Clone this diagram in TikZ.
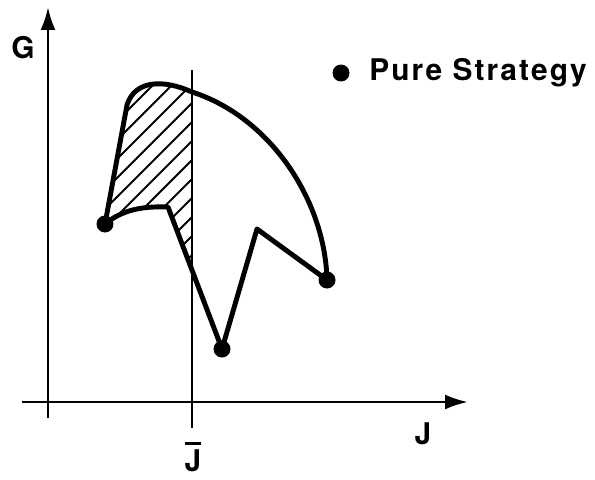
\documentclass[tikz,border=0pt]{standalone}
\usepackage{fontspec}
\setmainfont{TeX Gyre Heros}
\newfontfamily\legendfont[LetterSpace=7]{TeX Gyre Heros}
\usetikzlibrary{arrows.meta}
\tikzset{
  >={Latex[length=4.6mm,width=3mm]},
  axis/.style={->, line width=1.6pt, draw=black},
  jbar/.style={line width=1.4pt},
  boundary/.style={line width=2.8pt, line join=round},
  hatch/.style={line width=1.1pt},
  purept/.style={circle, fill=black, inner sep=0pt, minimum size=0.34cm},
  lbl/.style={font=\fontsize{17}{20}\selectfont\bfseries, inner sep=0pt}
}
% outline of the set of reachable (J,G) pairs
\newcommand\feasible{(stratA.center) -- (shoulder) .. controls (135,80) and (163,79) .. (crest)
  .. controls (270,117) and (325,200) .. (stratC.center) -- (peak) -- (stratB.center)
  -- (kink) .. controls (142,206) and (122,210) .. (stratA.center) -- cycle}

\begin{document}
\begin{tikzpicture}[x=0.02cm,y=-0.02cm]
\useasboundingbox (0,0) rectangle (595,480);
% axes
\coordinate (yfoot) at (48,418);
\coordinate (ytip) at (48,7);
\coordinate (xfoot) at (22,402);
\coordinate (xtip) at (468,402);
\draw[axis] (yfoot) -- (ytip);
\draw[axis] (xfoot) -- (xtip);
\node[lbl] (glabel) at (23,48) {G};
\node[lbl] (jlabel) at (423,434) {J};
% bound on J
\coordinate (jtop) at (192,70);
\coordinate (jfoot) at (192,428);
\node[lbl] (jbarlabel) at (193,457) {\setbox0\hbox{J}\vbox{\hrule height 1.7pt width \wd0 \kern 2.5pt \box0}};
% pure strategies
\node[purept] (stratA) at (105,224) {};
\node[purept] (stratB) at (222,349) {};
\node[purept] (stratC) at (327,280) {};
\coordinate (shoulder) at (127,105);
\coordinate (crest) at (192,92);
\coordinate (peak) at (257,229);
\coordinate (kink) at (168,207);
% hatched part left of the bound
\begin{scope}
\clip (0,0) rectangle (192,480);
\clip \feasible;
\foreach \k in {200,219,...,466}
  \draw[hatch] (80,\k-80) -- (200,\k-200);
\end{scope}
\draw[jbar] (jtop) -- (jfoot);
\draw[boundary] \feasible;
% legend
\node[purept] (legdot) at (341,73) {};
\node[lbl, anchor=base west, font=\fontsize{17}{20}\selectfont\legendfont\bfseries] (legtext) at (369,80) {Pure Strategy};
\end{tikzpicture}
\end{document}
